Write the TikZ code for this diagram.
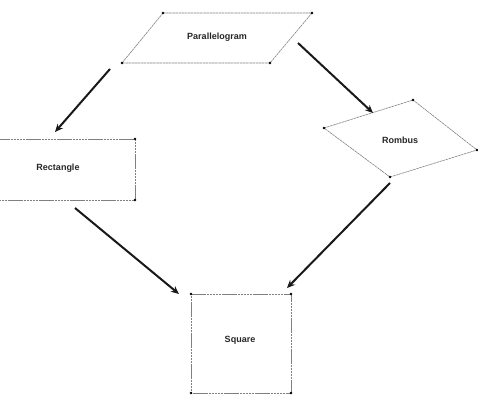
\documentclass[tikz,border=0pt]{standalone}
\usepackage{fontspec}
\setmainfont{Liberation Sans}
\usetikzlibrary{arrows.meta}
\tikzset{
  edge/.style={draw=black!50, line width=0.6pt, dash pattern=on 2.5pt off 0.6pt},
  vdot/.style={fill=black, draw=none},
  conn/.style={draw=black!90, line width=2pt, -{Stealth[length=8pt,width=7pt]}},
  lbl/.style={font=\fontsize{9}{10}\selectfont\bfseries, text=black!85},
}
\begin{document}
\begin{tikzpicture}[x=1pt,y=-1pt]
\useasboundingbox (0,0) rectangle (478,396);
% Parallelogram
\coordinate (p1) at (163,13);
\coordinate (p2) at (312,13);
\coordinate (p3) at (270,63);
\coordinate (p4) at (122,63);
\draw[edge] (p1) -- (p2) -- (p3) -- (p4) -- cycle;
\node[lbl] (par) at (217,37) {Parallelogram};
% Rectangle
\coordinate (r1) at (-5,139);
\coordinate (r2) at (135,139);
\coordinate (r3) at (135,200);
\coordinate (r4) at (-5,200);
\begin{scope}
\clip (0,0) rectangle (478,396);
\draw[edge] (r1) -- (r2) -- (r3) -- (r4);
\end{scope}
\node[lbl] (rect) at (58,168) {Rectangle};
% Rombus
\coordinate (b1) at (324,128);
\coordinate (b2) at (413,100);
\coordinate (b3) at (477,150);
\coordinate (b4) at (390,177);
\draw[edge] (b1) -- (b2) -- (b3) -- (b4) -- cycle;
\node[lbl] (rom) at (400,140) {Rombus};
% Square
\coordinate (s1) at (191,294);
\coordinate (s2) at (291,294);
\coordinate (s3) at (291,393);
\coordinate (s4) at (191,393);
\draw[edge] (s1) -- (s2) -- (s3) -- (s4) -- cycle;
\node[lbl] (sq) at (240,340) {Square};
% vertex dots
\foreach \c in {p1,p2,p3,p4,r2,r3,b1,b2,b3,b4,s1,s2,s3,s4}
  \fill[vdot] (\c) circle (1.4pt);
% arrows
\coordinate (a1s) at (110,69);
\coordinate (a1e) at (55,132);
\coordinate (a2s) at (298,43);
\coordinate (a2e) at (373,113);
\coordinate (a3s) at (75,208);
\coordinate (a3e) at (179,294);
\coordinate (a4s) at (390,183);
\coordinate (a4e) at (287,288);
\draw[conn] (a1s) -- (a1e);
\draw[conn] (a2s) -- (a2e);
\draw[conn] (a3s) -- (a3e);
\draw[conn] (a4s) -- (a4e);
\end{tikzpicture}
\end{document}
